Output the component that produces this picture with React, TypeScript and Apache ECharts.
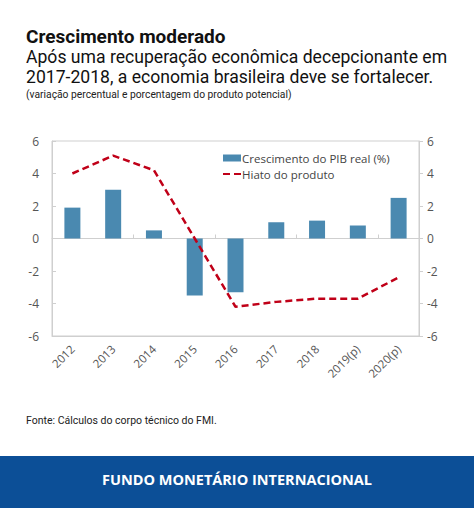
import React, { useEffect, useRef } from "react";
import * as echarts from "echarts";

const categories = ["2012", "2013", "2014", "2015", "2016", "2017", "2018", "2019(p)", "2020(p)"];
const gdpGrowth = [1.9, 3.0, 0.5, -3.5, -3.3, 1.0, 1.1, 0.8, 2.5];
const outputGap = [4.0, 5.1, 4.2, 0.0, -4.2, -3.9, -3.7, -3.7, -2.4];
const yTicks = { min: -6, max: 6, interval: 2 };

const title = "Crescimento moderado";
const subtitle1 = "Após uma recuperação econômica decepcionante em";
const subtitle2 = "2017-2018, a economia brasileira deve se fortalecer.";
const unitNote = "(variação percentual e porcentagem do produto potencial)";
const source = "Fonte: Cálculos do corpo técnico do FMI.";
const banner = "FUNDO MONETÁRIO INTERNACIONAL";
const seriesNames = ["Crescimento do PIB real (%)", "Hiato do produto"];

export default function App() {
  const ref = useRef<HTMLDivElement>(null);
  useEffect(() => {
    document.body.style.margin = "0";
    const chart = echarts.init(ref.current!, null, { renderer: "svg" });
    const axisFont = "'Open Sans', 'Noto Sans', sans-serif";
    const gridColor = "#cfcfcf";
    const lineColor = "#c00018";
    chart.setOption({
      animation: false,
      backgroundColor: "#ffffff",
      grid: { left: 52, right: 55, top: 141, height: 195, show: true, borderColor: gridColor, borderWidth: 1, backgroundColor: "transparent" },
      legend: {
        orient: "vertical",
        left: 223,
        top: 152,
        padding: 0,
        itemWidth: 18,
        itemHeight: 7,
        itemGap: 4,
        textStyle: { fontSize: 11.5, color: "#444", fontFamily: axisFont, padding: [0, 0, 0, -4] },
        data: [
          { name: seriesNames[0], icon: "rect" },
          {
            name: seriesNames[1],
            icon: "path://M0,0 L7,0 L7,2 L0,2 Z M11,0 L18,0 L18,2 L11,2 Z",
            itemStyle: { color: lineColor },
          },
        ],
      },
      xAxis: [
        {
          type: "category",
          data: categories,
          position: "bottom",
          axisLine: { show: true, onZero: false, lineStyle: { color: gridColor } },
          axisTick: { show: false },
          axisLabel: { rotate: 45, fontSize: 11.5, color: "#555", fontFamily: axisFont, margin: 11, interval: 0 },
        },
        {
          type: "category",
          data: categories,
          position: "bottom",
          axisLine: { show: true, onZero: true, lineStyle: { color: gridColor } },
          axisTick: { show: true, inside: true, length: 4, lineStyle: { color: gridColor } },
          axisLabel: { show: false },
        },
      ],
      yAxis: [
        {
          type: "value",
          ...yTicks,
          position: "left",
          axisLine: { show: true, lineStyle: { color: gridColor } },
          axisTick: { show: true, inside: true, length: 4, lineStyle: { color: gridColor } },
          axisLabel: { fontSize: 12, color: "#555", fontFamily: axisFont, margin: 13 },
          splitLine: { show: false },
        },
        {
          type: "value",
          ...yTicks,
          position: "right",
          axisLine: { show: true, lineStyle: { color: gridColor } },
          axisTick: { show: true, inside: false, length: 4, lineStyle: { color: gridColor } },
          axisLabel: { fontSize: 12, color: "#555", fontFamily: axisFont, margin: 8 },
          splitLine: { show: false },
        },
      ],
      series: [
        {
          name: seriesNames[0],
          type: "bar",
          data: gdpGrowth,
          barWidth: 16,
          itemStyle: { color: "#4a89b0" },
        },
        {
          name: seriesNames[1],
          type: "line",
          data: outputGap,
          symbol: "none",
          lineStyle: { color: lineColor, width: 2.5, type: [7, 4] },
          itemStyle: { color: lineColor },
        },
      ],
      graphic: [
        { type: "text", left: 26, top: 27, style: { text: title, font: "bold 19px Roboto", fill: "#111" } },
        { type: "text", left: 26, top: 48, style: { text: subtitle1, font: "17.6px Roboto", fill: "#111" } },
        { type: "text", left: 26, top: 67.5, style: { text: subtitle2, font: "17.6px Roboto", fill: "#111" } },
        { type: "text", left: 26, top: 89, style: { text: unitNote, font: "10.3px Roboto", fill: "#222" } },
        { type: "text", left: 26, top: 415, style: { text: source, font: "10.5px Roboto", fill: "#222" } },
        { type: "rect", left: 0, top: 456, shape: { width: 474, height: 52 }, style: { fill: "#0c4f97" } },
        { type: "text", left: "center", top: 472, style: { text: banner, font: "bold 14.5px 'Open Sans'", fill: "#ffffff" } },
      ],
    });
    return () => chart.dispose();
  }, []);
  return <div ref={ref} style={{ width: 474, height: 508, position: "absolute", left: 0, top: 0 }} />;
}
